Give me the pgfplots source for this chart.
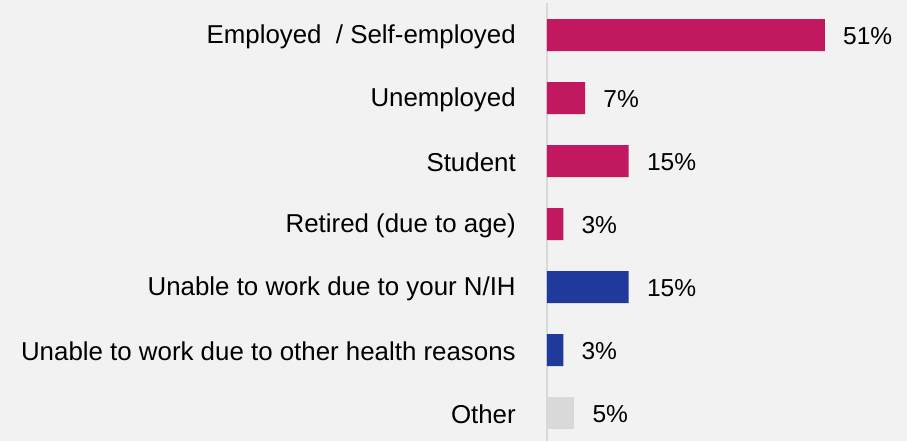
\documentclass[border=0pt]{standalone}
\usepackage{fontspec}
\setmainfont{Liberation Sans}
\usepackage{pgfplots}
\pgfplotsset{compat=1.18}
\definecolor{bgc}{HTML}{F2F2F2}
\definecolor{mag}{HTML}{C2185F}
\definecolor{blu}{HTML}{1F3A9B}
\definecolor{gry}{HTML}{D9D9D9}
\definecolor{axc}{HTML}{D9D9D9}
\begin{document}
\begin{tikzpicture}
\fill[bgc] (-410.25pt,0) rectangle (270pt,330.75pt);
\begin{axis}[
  at={(0,0)}, anchor=south west,
  scale only axis, width=270pt, height=330.75pt,
  xbar, bar width=24pt, bar shift=0pt,
  xmin=0, xmax=66.06,
  ymin=-0.556, ymax=6.444, y dir=reverse,
  hide x axis,
  separate axis lines,
  y axis line style={draw=none},
  ytick={0,1,2,3,4,5,6},
  yticklabels={Employed\ \ / Self-employed, Unemployed, Student, Retired (due to age), Unable to work due to your N/IH, Unable to work due to other health reasons, Other},
  yticklabel style={anchor=east, inner sep=0pt, xshift=-23.25pt, yshift=-1pt, font=\fontsize{19.4pt}{22pt}\selectfont, text=black},
  major tick length=0pt,
  ytick style={draw=none},
  /pgf/number format/assume math mode=true,
  nodes near coords={\pgfmathprintnumber{\pgfplotspointmeta}\%},
  point meta=x,
  every node near coord/.append style={anchor=west, inner sep=0pt, xshift=13.5pt, yshift=-0.5pt, font=\fontsize{18.4pt}{22pt}\selectfont, text=black},
  clip=false,
]
\draw[axc, line width=1.2pt] (axis cs:0,-0.508) -- (axis cs:0,6.444);
\addplot[fill=mag, draw=none] coordinates {(51,0) (7,1) (15,2) (3,3)};
\addplot[fill=blu, draw=none] coordinates {(15,4) (3,5)};
\addplot[fill=gry, draw=none] coordinates {(5,6)};
\end{axis}
\end{tikzpicture}
\end{document}
